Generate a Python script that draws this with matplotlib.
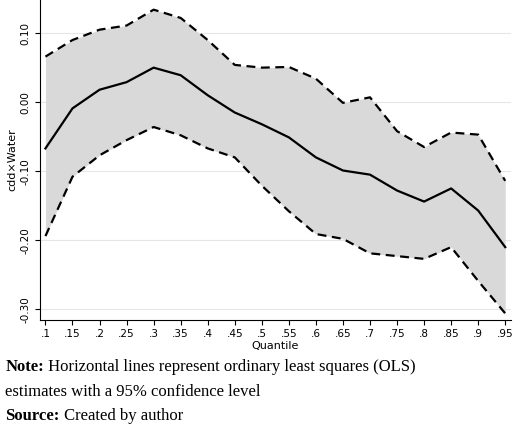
import matplotlib
matplotlib.use("Agg")
import matplotlib.pyplot as plt

quantiles = [.1,.15,.2,.25,.3,.35,.4,.45,.5,.55,.6,.65,.7,.75,.8,.85,.9,.95]
qlabels = [".1",".15",".2",".25",".3",".35",".4",".45",".5",".55",".6",".65",".7",".75",".8",".85",".9",".95"]
coef = [-0.067,-0.009,0.018,0.029,0.050,0.039,0.010,-0.015,-0.032,-0.051,-0.080,-0.099,-0.105,-0.128,-0.144,-0.125,-0.157,-0.210]
upper = [0.066,0.090,0.105,0.111,0.134,0.122,0.090,0.054,0.050,0.051,0.034,-0.001,0.007,-0.042,-0.065,-0.044,-0.047,-0.114]
lower = [-0.194,-0.108,-0.077,-0.055,-0.036,-0.048,-0.067,-0.080,-0.121,-0.158,-0.191,-0.198,-0.219,-0.223,-0.227,-0.210,-0.259,-0.306]
yticks = [-0.30,-0.20,-0.10,0.00,0.10]

fig = plt.figure(figsize=(5.2,4.29), dpi=100)
ax = fig.add_axes([0.077, 0.255, 0.905, 0.745])
ax.fill_between(quantiles, lower, upper, color="#d9d9d9", lw=0)
ax.plot(quantiles, coef, color="black", lw=1.6)
ax.plot(quantiles, upper, color="black", lw=1.6, ls=(0,(4,2.5)))
ax.plot(quantiles, lower, color="black", lw=1.6, ls=(0,(4,2.5)))
ax.set_xlim(0.09, 0.96)
ax.set_ylim(-0.315, 0.148)
ax.set_xticks(quantiles)
ax.set_xticklabels(qlabels, fontsize=7.5)
ax.set_yticks(yticks)
ax.set_yticklabels(["%.2f" % v for v in yticks], fontsize=7.5, rotation=90, va="center")
ax.grid(axis="y", color="#e6e6e6", lw=0.8)
ax.set_axisbelow(True)
for s in ["top","right"]:
    ax.spines[s].set_visible(False)
ax.set_xlabel("Quantile", fontsize=8, labelpad=1)
ax.set_ylabel("cdd×Water", fontsize=8, labelpad=2)

fs = 12
fam = "Liberation Serif"
n = fig.text(0.01, 0.135, "Note:", fontsize=fs, family=fam, weight="bold")
fig.text(0.0, 0.0, " Horizontal lines represent ordinary least squares (OLS)", fontsize=fs,
         family=fam, transform=n.get_transform())
fig.texts.pop()
ax.annotate(" Horizontal lines represent ordinary least squares (OLS)", xy=(1, 0), xycoords=n,
            fontsize=fs, family=fam, va="bottom", ha="left", annotation_clip=False)
fig.text(0.01, 0.078, "estimates with a 95% confidence level", fontsize=fs, family=fam)
s = fig.text(0.01, 0.021, "Source:", fontsize=fs, family=fam, weight="bold")
ax.annotate(" Created by author", xy=(1, 0), xycoords=s,
            fontsize=fs, family=fam, va="bottom", ha="left", annotation_clip=False)
fig.savefig("out.png", dpi=100)
